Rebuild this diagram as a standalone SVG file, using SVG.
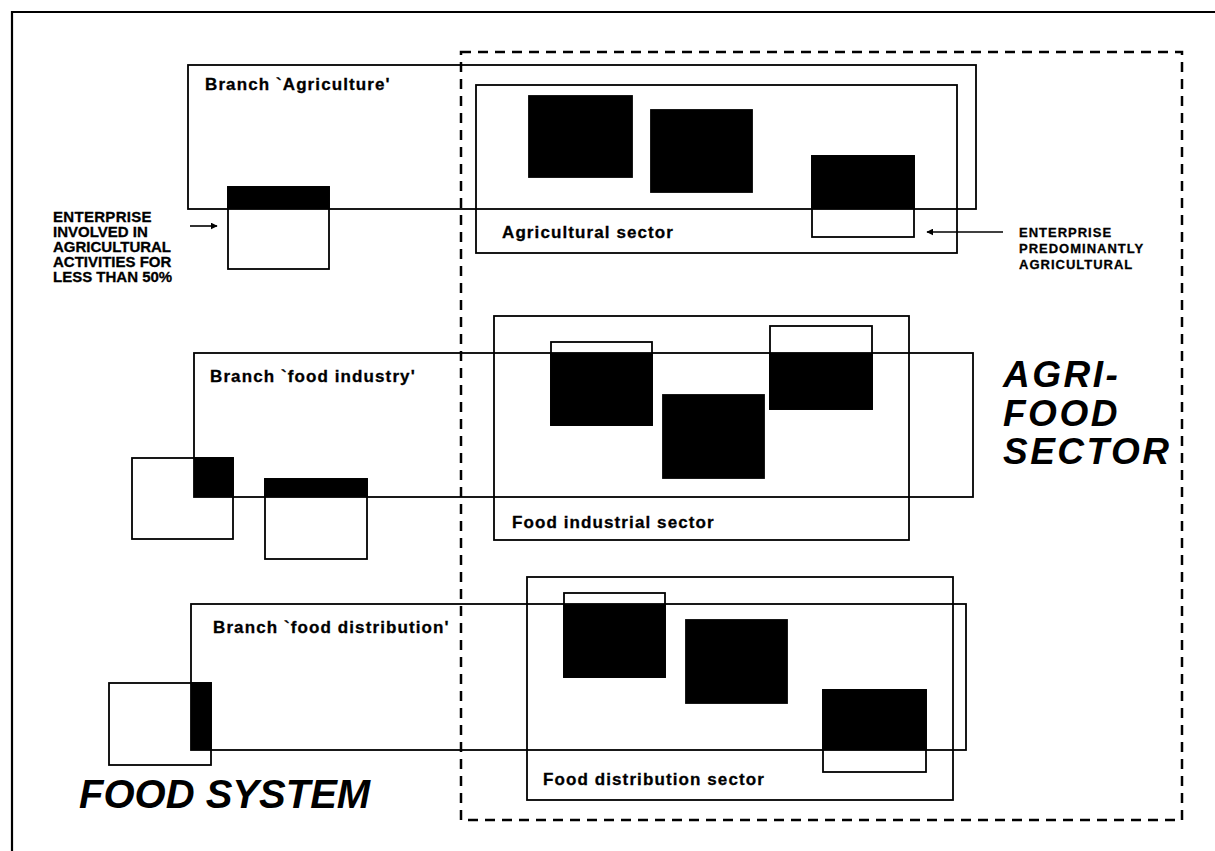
<svg xmlns="http://www.w3.org/2000/svg" width="1215" height="851" viewBox="0 0 1215 851">
<style>
.box{fill:none;stroke:#000;stroke-width:1.8}
.ent{fill:#fff;stroke:#000;stroke-width:1.8}
.blk{fill:#000;stroke:#000;stroke-width:1.8}
.lbl{font-family:"Liberation Sans",Arial,sans-serif;font-weight:bold;font-size:17px;letter-spacing:1.1px;fill:#000;stroke:#000;stroke-width:0.3}
.note{font-family:"Liberation Sans",Arial,sans-serif;font-weight:bold;fill:#000;stroke:#000;stroke-width:0.3}
.big{font-family:"Liberation Sans",Arial,sans-serif;font-weight:bold;font-style:italic;fill:#000}
.dash{fill:none;stroke:#000;stroke-width:2.5;stroke-dasharray:10 7}
.conn{fill:none;stroke:#000;stroke-width:1.6}
</style>
<defs>
<marker id="ah" viewBox="0 0 10 10" refX="9" refY="5" markerWidth="7" markerHeight="7" orient="auto" markerUnits="userSpaceOnUse">
<path d="M0,0 L10,5 L0,10 Z" fill="#000"/>
</marker>
</defs>
<rect width="1215" height="851" fill="#fff"/>
<g id="frame">
<path d="M12,851 L12,12 L1215,12" fill="none" stroke="#000" stroke-width="2.2"/>
</g>
<g id="food-system-label">
<text class="big" x="79" y="808" font-size="40">FOOD SYSTEM</text>
</g>
<g id="agri-food-sector">
<rect class="dash" x="461" y="52" width="721" height="768"/>
<text class="big" x="1003" y="387" font-size="37" letter-spacing="2.5">AGRI-</text>
<text class="big" x="1003" y="426" font-size="37" letter-spacing="2.5">FOOD</text>
<text class="big" x="1003" y="464" font-size="37" letter-spacing="2.5">SECTOR</text>
</g>
<g id="branch-agriculture">
<rect class="box" x="188" y="65" width="788" height="144"/>
<text class="lbl" x="205" y="90">Branch `Agriculture'</text>
</g>
<g id="agricultural-sector">
<rect class="box" x="476" y="85" width="481" height="168"/>
<text class="lbl" x="502" y="238" letter-spacing="1.2">Agricultural sector</text>
</g>
<g id="ent-agri-left">
<rect class="ent" x="228" y="187" width="101" height="82"/>
<rect class="blk" x="228" y="187" width="101" height="22"/>
</g>
<g id="ent-agri-1"><rect class="blk" x="529" y="96" width="103" height="81"/></g>
<g id="ent-agri-2"><rect class="blk" x="651" y="110" width="101" height="82"/></g>
<g id="ent-agri-3">
<rect class="ent" x="812" y="156" width="102" height="81"/>
<rect class="blk" x="812" y="156" width="102" height="53"/>
</g>
<g id="branch-food-industry">
<rect class="box" x="194" y="353" width="779" height="144"/>
<text class="lbl" x="210" y="382">Branch `food industry'</text>
</g>
<g id="food-industrial-sector">
<rect class="box" x="494" y="316" width="415" height="224"/>
<text class="lbl" x="512" y="528">Food industrial sector</text>
</g>
<g id="ent-fi-left1">
<rect class="ent" x="132" y="458" width="101" height="81"/>
<rect class="blk" x="194" y="458" width="39" height="39"/>
</g>
<g id="ent-fi-left2">
<rect class="ent" x="265" y="479" width="102" height="80"/>
<rect class="blk" x="265" y="479" width="102" height="18"/>
</g>
<g id="ent-fi-1">
<rect class="ent" x="551" y="342" width="101" height="83"/>
<rect class="blk" x="551" y="353" width="101" height="72"/>
</g>
<g id="ent-fi-2"><rect class="blk" x="663" y="395" width="101" height="83"/></g>
<g id="ent-fi-3">
<rect class="ent" x="770" y="326" width="102" height="83"/>
<rect class="blk" x="770" y="353" width="102" height="56"/>
</g>
<g id="branch-food-distribution">
<rect class="box" x="191" y="604" width="775" height="146"/>
<text class="lbl" x="213" y="633">Branch `food distribution'</text>
</g>
<g id="food-distribution-sector">
<rect class="box" x="527" y="577" width="426" height="223"/>
<text class="lbl" x="543" y="785">Food distribution sector</text>
</g>
<g id="ent-fd-left">
<rect class="ent" x="109" y="683" width="102" height="82"/>
<rect class="blk" x="191" y="683" width="20" height="67"/>
</g>
<g id="ent-fd-1">
<rect class="ent" x="564" y="593" width="101" height="84"/>
<rect class="blk" x="564" y="604" width="101" height="73"/>
</g>
<g id="ent-fd-2"><rect class="blk" x="686" y="620" width="101" height="83"/></g>
<g id="ent-fd-3">
<rect class="ent" x="823" y="690" width="103" height="82"/>
<rect class="blk" x="823" y="690" width="103" height="60"/>
</g>
<g id="note-left">
<text class="note" font-size="15" x="53" y="222" letter-spacing="0.3">ENTERPRISE</text>
<text class="note" font-size="15" x="53" y="237">INVOLVED IN</text>
<text class="note" font-size="15" x="53" y="252">AGRICULTURAL</text>
<text class="note" font-size="15" x="53" y="267">ACTIVITIES FOR</text>
<text class="note" font-size="15" x="53" y="282">LESS THAN 50%</text>
</g>
<g id="note-right">
<text class="note" font-size="13" letter-spacing="1" x="1019" y="237">ENTERPRISE</text>
<text class="note" font-size="13" letter-spacing="1" x="1019" y="253">PREDOMINANTLY</text>
<text class="note" font-size="13" letter-spacing="1" x="1019" y="269">AGRICULTURAL</text>
</g>
<g id="connectors">
<line class="conn" x1="190" y1="226" x2="217" y2="226" marker-end="url(#ah)"/>
<line class="conn" x1="1003" y1="232" x2="927" y2="232" marker-end="url(#ah)"/>
</g>
</svg>
